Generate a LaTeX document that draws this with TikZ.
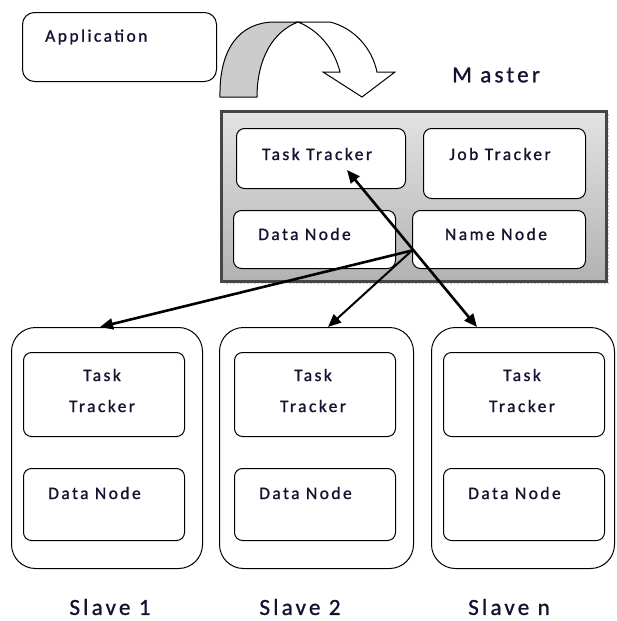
\documentclass[tikz,border=0pt]{standalone}
\usepackage{fontspec}
\setmainfont{Carlito}[LetterSpace=14, FakeBold=1.2]
\usetikzlibrary{arrows.meta}
\definecolor{txt}{RGB}{20,20,50}
\tikzset{
  box/.style={draw=black, line width=1pt, rounded corners=8pt, fill=white, inner sep=0pt, anchor=north west},
  slavebox/.style={draw=black, line width=1pt, rounded corners=24pt, fill=white, inner sep=0pt, anchor=north west, minimum width=#1, minimum height=241pt},
  lbl/.style={font=\fontsize{17.5}{19}\selectfont, text=txt, inner sep=0pt},
  biglbl/.style={font=\fontsize{23}{25}\selectfont, text=txt, inner sep=0pt},
  conn/.style={line width=2.6pt, -{Triangle[length=13pt,width=11pt]}},
}
\begin{document}
\begin{tikzpicture}[x=1pt,y=-1pt]
\useasboundingbox (0,0) rectangle (616,621);
% Application
\node[box, rounded corners=12pt, minimum width=194pt, minimum height=69pt] (app) at (22,12) {};
\node[lbl, anchor=west] (applbl) at (45,37) {Application};
% curved arrow
\draw[line width=1pt, fill=gray!40] (220,97) .. controls (219,48) and (240,23) .. (273,22) -- (298,22)
  .. controls (272,32) and (257,60) .. (257,97) -- cycle;
\draw[line width=1pt, fill=white, line join=miter] (298,22) -- (330,22) .. controls (354,28) and (372,48) .. (377,72)
  -- (395,72) -- (362,97) -- (323,72) -- (340,72) .. controls (334,48) and (318,30) .. (298,22) -- cycle;
% Master
\node[biglbl, anchor=west] (mlbl) at (452,75) {M aster};
\draw[gray!45, line width=1.5pt, dotted] (608,114) -- (608,283) -- (224,283);
\node[draw=gray!55!black, line width=3pt, inner sep=0pt, anchor=north west, minimum width=385pt, minimum height=170pt,
  top color=gray!22, middle color=gray!8, bottom color=gray!60] (master) at (220,110) {};
\node[box, minimum width=169pt, minimum height=60pt] (mtt) at (236,128) {};
\node[box, minimum width=162pt, minimum height=70pt] (mjt) at (423,128) {};
\node[box, minimum width=162pt, minimum height=58pt] (mdn) at (233,210) {};
\node[box, minimum width=173pt, minimum height=58pt] (mnn) at (412,210) {};
\node[lbl] (mttl) at (317,154) {Task Tracker};
\node[lbl] (mjtl) at (500,154) {Job Tracker};
\node[lbl, anchor=west] (mdnl) at (258,234) {Data Node};
\node[lbl] (mnnl) at (496,234) {Name Node};
% Slaves
\node[slavebox=191pt] (s1) at (11,327) {};
\node[slavebox=194pt] (s2) at (219,327) {};
\node[slavebox=183pt] (sn) at (431,327) {};
\foreach \n/\x in {s1/23, s2/234, sn/443} {
  \node[box, minimum width=161pt, minimum height=84pt] (\n t) at (\x,352) {};
  \node[box, minimum width=161pt, minimum height=72pt] (\n d) at (\x,468) {};
  \node[lbl] (\n tl1) at ([xshift=-2pt]\n t.center |- 0,375) {Task};
  \node[lbl] (\n tl2) at ([xshift=-2pt]\n t.center |- 0,406) {Tracker};
  \node[lbl, anchor=west] (\n dl) at ([xshift=25pt]\n d.west |- 0,493) {Data Node};
}
\node[biglbl] (s1l) at (110,607) {Slave 1};
\node[biglbl] (s2l) at (300,607) {Slave 2};
\node[biglbl] (snl) at (509,607) {Slave n};
% connectors
\coordinate (hub) at ([yshift=-11pt]mnn.west);
\coordinate (mttp) at (347,170);
\coordinate (s1p) at (100,327);
\coordinate (s2p) at (328,327);
\coordinate (snp) at (477,327);
\draw[conn, {Triangle[length=13pt,width=11pt]}-{Triangle[length=13pt,width=11pt]}] (mttp) -- (snp);
\draw[conn] (hub) -- (s1p);
\draw[conn, line width=2pt] (hub) -- (s2p);
\end{tikzpicture}
\end{document}
